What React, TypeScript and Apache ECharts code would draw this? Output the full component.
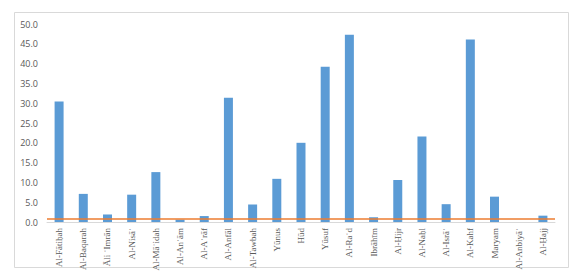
import React, { useEffect, useRef } from "react";
import * as echarts from "echarts";

const categories = [
  "Al-Fātiḥah", "Al-Baqarah", "Āli ʿImrān", "Al-Nisāʾ", "Al-Māʾidah", "Al-Anʿām",
  "Al-Aʿrāf", "Al-Anfāl", "Al-Tawbah", "Yūnus", "Hūd", "Yūsuf", "Al-Raʿd",
  "Ibrāhīm", "Al-Ḥijr", "Al-Naḥl", "Al-Isrāʾ", "Al-Kahf", "Maryam", "Al-Anbiyāʾ", "Al-Ḥajj",
];
const values = [
  30.4, 7.1, 1.9, 6.9, 12.6, 0.6, 1.5, 31.4, 4.4, 10.9, 20.0, 39.2, 47.3,
  1.2, 10.6, 21.6, 4.5, 46.1, 6.4, 0, 1.6,
];
const referenceValue = 0.9;
const yMin = 0;
const yMax = 50;
const yInterval = 5;

export default function App() {
  const ref = useRef<HTMLDivElement>(null);
  useEffect(() => {
    if (!ref.current) return;
    const chart = echarts.init(ref.current, null, { renderer: "svg" });
    chart.setOption({
      animation: false,
      backgroundColor: "#ffffff",
      graphic: [
        {
          type: "rect",
          shape: { x: 14.5, y: 12.5, width: 554, height: 255 },
          style: { fill: "none", stroke: "#d9d9d9", lineWidth: 1 },
          silent: true,
        },
      ],
      grid: { left: 47, right: 33, top: 24, bottom: 53 },
      xAxis: {
        type: "category",
        data: categories,
        axisLine: { show: true, lineStyle: { color: "#d9d9d9" } },
        axisTick: { show: false },
        axisLabel: {
          rotate: 90,
          interval: 0,
          margin: 6,
          color: "#595959",
          fontFamily: "Liberation Serif",
          fontSize: 9,
        },
      },
      yAxis: {
        type: "value",
        min: yMin,
        max: yMax,
        interval: yInterval,
        axisLine: { show: false },
        axisTick: { show: false },
        splitLine: { show: false },
        axisLabel: {
          color: "#595959",
          fontFamily: "Open Sans",
          fontSize: 9,
          margin: 9,
          formatter: (v: number) => v.toFixed(1),
        },
      },
      series: [
        {
          type: "bar",
          data: values,
          barWidth: 9,
          itemStyle: { color: "#5B9BD5" },
          markLine: {
            silent: true,
            symbol: ["none", "none"],
            label: { show: false },
            lineStyle: { color: "#ED7D31", width: 1.5, type: "solid" },
            data: [{ yAxis: referenceValue }],
            z: 5,
          },
        },
      ],
    });
    return () => chart.dispose();
  }, []);
  return (
    <div
      ref={ref}
      style={{ position: "fixed", left: 0, top: 0, width: 588, height: 275 }}
    />
  );
}
